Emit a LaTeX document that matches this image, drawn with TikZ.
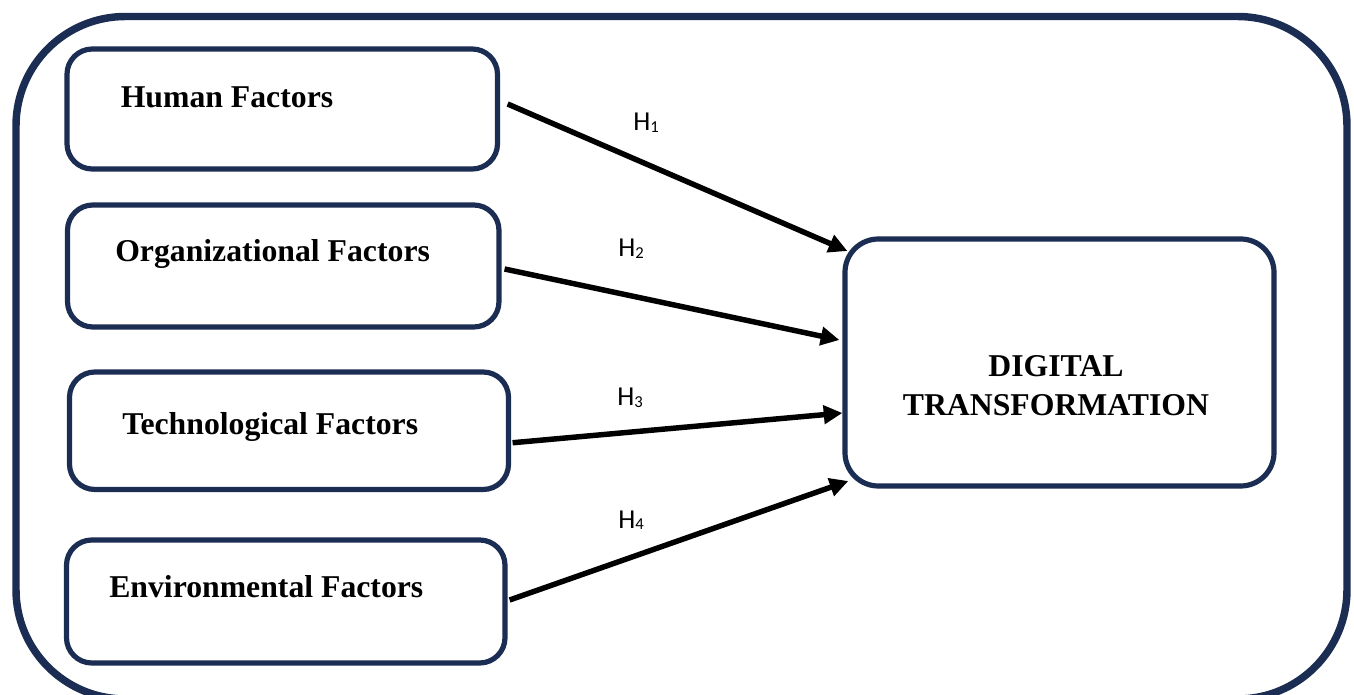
\documentclass[tikz,border=0pt]{standalone}
\usepackage{fontspec}
\setmainfont{Liberation Serif}
\newfontfamily\labfont{Carlito}
\usetikzlibrary{arrows.meta}
\definecolor{navy}{RGB}{27,45,82}
\begin{document}
\begin{tikzpicture}[x=0.75pt,y=-0.75pt,
  frame/.style={draw=navy,line width=5.6pt,rounded corners=82pt},
  factorbox/.style={draw=navy,line width=3.9pt,rounded corners=19pt,rectangle,inner sep=0pt},
  factortext/.style={font=\bfseries\fontsize{23.8}{28}\selectfont,inner sep=0pt,anchor=base west},
  hyp/.style={font=\labfont\fontsize{20.5}{23}\selectfont,inner sep=0pt,anchor=base west},
  link/.style={line width=4.1pt,-{Triangle[length=14pt,width=13.5pt]}}]
\useasboundingbox (0,0) rectangle (1354,695);
\clip (0,0) rectangle (1354,695);
% outer frame
\draw[frame] (16,16.5) rectangle (1347,699);
% factor boxes
\node[factorbox,minimum width=322.9pt,minimum height=90pt] (hum) at (282.25,109) {};
\node[factorbox,minimum width=323.6pt,minimum height=91.5pt] (org) at (283.25,266) {};
\node[factorbox,minimum width=329.25pt,minimum height=88.1pt] (tech) at (289,430.75) {};
\node[factorbox,minimum width=328.9pt,minimum height=92.25pt] (env) at (285.75,601.5) {};
\node[factorbox,rounded corners=25pt,minimum width=321.75pt,minimum height=185.25pt] (dt) at (1059.5,362.5) {};
% texts
\node[factortext] (humt) at (120.5,108) {Human Factors};
\node[factortext] (orgt) at (115,261.7) {Organizational Factors};
\node[factortext] (techt) at (122,435) {Technological Factors};
\node[factortext] (envt) at (109,597) {Environmental Factors};
\node[font=\bfseries\fontsize{23.8}{29.25}\selectfont,align=center,inner sep=0pt] (dtt) at (1056,386) {DIGITAL\\TRANSFORMATION};
% hypothesis labels
\node[hyp] (h1) at (633,131) {H\raisebox{-1pt}{\fontsize{12.5}{14}\selectfont 1}};
\node[hyp] (h2) at (618,257) {H\raisebox{-1pt}{\fontsize{12.5}{14}\selectfont 2}};
\node[hyp] (h3) at (617,406) {H\raisebox{-1pt}{\fontsize{12.5}{14}\selectfont 3}};
\node[hyp] (h4) at (618,528) {H\raisebox{-1pt}{\fontsize{12.5}{14}\selectfont 4}};
% arrows
\draw[link] ([shift={(7.5,-5)}]hum.east) -- ([shift={(5,-111.5)}]dt.west);
\draw[link] ([shift={(3,3)}]org.east) -- ([shift={(-3,-22.5)}]dt.west);
\draw[link] ([shift={(1.5,12)}]tech.east) -- ([shift={(0,50.5)}]dt.west);
\draw[link] ([shift={(2,-1.5)}]env.east) -- ([shift={(6,118.5)}]dt.west);
\end{tikzpicture}
\end{document}
